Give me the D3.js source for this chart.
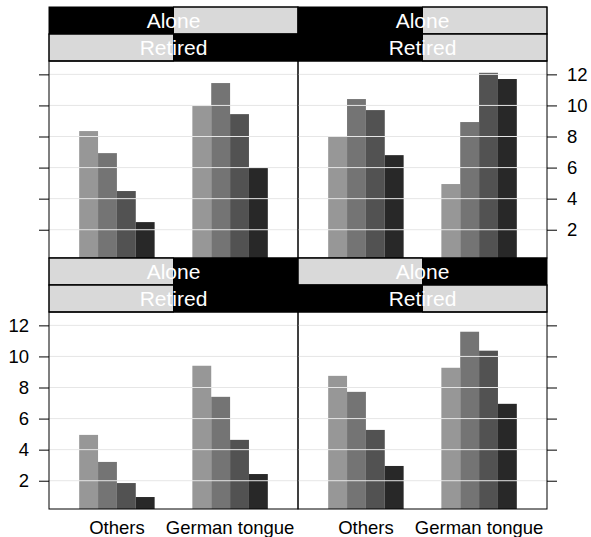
<!DOCTYPE html>
<html>
<head>
  <meta charset="UTF-8">
  <title>Barchart by Alone / Retired</title>
  <script src="https://d3js.org/d3.v7.min.js"></script>
  <style>
    body { margin: 0; padding: 0; background: #fff; }
    svg { display: block; font-family: "Liberation Sans", Arial, sans-serif; }
  </style>
</head>
<body>
  <svg id="chart" width="591" height="537"></svg>
  <script>
    // data
    const categories = ["Others", "German tongue"];
    const series = ["g1", "g2", "g3", "g4"];
    const yTicks = [2, 4, 6, 8, 10, 12];

    // Alone = level 1, Retired = level 1
    const othersA1R1 = [4.95, 3.21, 1.85, 0.95];
    const germanA1R1 = [9.4, 7.4, 4.63, 2.43];
    // Alone = 1, Retired = 2
    const othersA1R2 = [8.75, 7.72, 5.27, 2.95];
    const germanA1R2 = [9.27, 11.59, 10.37, 6.95];
    // Alone = 2, Retired = 1
    const othersA2R1 = [8.35, 6.93, 4.49, 2.49];
    const germanA2R1 = [9.96, 11.44, 9.44, 5.97];
    // Alone = 2, Retired = 2
    const othersA2R2 = [7.98, 10.41, 9.70, 6.80];
    const germanA2R2 = [4.94, 8.93, 12.10, 11.70];

    const panels = [
      {row: 0, col: 0, alone: 2, retired: 1, values: [othersA2R1, germanA2R1]},
      {row: 0, col: 1, alone: 2, retired: 2, values: [othersA2R2, germanA2R2]},
      {row: 1, col: 0, alone: 1, retired: 1, values: [othersA1R1, germanA1R1]},
      {row: 1, col: 1, alone: 1, retired: 2, values: [othersA1R2, germanA1R2]}
    ];

    const barColors = ["#979797", "#747474", "#525252", "#282828"];
    const stripGray = "#d9d9d9";

    const svg = d3.select("#chart");
    const left = 49, colW = 249;
    const top0 = 7, stripH = 27, panelH = 197;
    const rowH = 2 * stripH + panelH;

    const x = d3.scaleLinear().domain([0.4, 2.6]).range([0, colW]);
    const inner = d3.scaleBand().domain(series)
      .range([x(1 - 1/3) - x(1), x(1 + 1/3) - x(1)]);
    const y = d3.scaleLinear().domain([0.18, 12.86]).range([panelH, 0]);

    panels.forEach(p => {
      const px = left + p.col * colW;
      const py = top0 + p.row * rowH;
      const g = svg.append("g").attr("transform", `translate(${px},${py})`);

      // strips: Alone on top, Retired below
      [["Alone", p.alone], ["Retired", p.retired]].forEach(([name, lev], i) => {
        const s = g.append("g").attr("transform", `translate(0,${i * stripH})`);
        s.append("rect").attr("width", colW).attr("height", stripH).attr("fill", "#000");
        s.append("rect")
          .attr("x", lev === 1 ? 0 : colW / 2).attr("width", colW / 2)
          .attr("y", 0).attr("height", stripH)
          .attr("fill", stripGray).attr("stroke", "#000");
        s.append("rect").attr("width", colW).attr("height", stripH)
          .attr("fill", "none").attr("stroke", "#000");
        s.append("text")
          .attr("x", colW / 2).attr("y", stripH / 2 + 7)
          .attr("text-anchor", "middle")
          .attr("fill", "#fff")
          .style("font-size", "21px")
          .text(name);
      });

      const panel = g.append("g").attr("transform", `translate(0,${2 * stripH})`);

      categories.forEach((c, ci) => {
        panel.selectAll(null)
          .data(p.values[ci])
          .enter().append("rect")
          .attr("x", (d, i) => x(ci + 1) + inner(series[i]))
          .attr("width", inner.bandwidth())
          .attr("y", d => y(d))
          .attr("height", d => panelH - y(d))
          .attr("fill", (d, i) => barColors[i]);
      });

      // grid on top of the bars
      panel.selectAll(null)
        .data(yTicks)
        .enter().append("line")
        .attr("x1", 0).attr("x2", colW)
        .attr("y1", d => y(d)).attr("y2", d => y(d))
        .attr("stroke", "#e6e6e6").attr("stroke-width", 1);

      panel.append("rect").attr("width", colW).attr("height", panelH)
        .attr("fill", "none").attr("stroke", "#000");

      // y axes: left column on the left, right column on the right
      const showLabels = (p.col === 0 && p.row === 1) || (p.col === 1 && p.row === 0);
      const axis = (p.col === 0 ? d3.axisLeft(y) : d3.axisRight(y))
        .tickValues(yTicks).tickSize(10).tickPadding(10)
        .tickFormat(showLabels ? d3.format("d") : () => "");
      const ax = panel.append("g")
        .attr("transform", `translate(${p.col === 0 ? 0 : colW},0)`)
        .call(axis);
      ax.select(".domain").remove();
      ax.selectAll("line").attr("stroke", "#000");
      ax.selectAll("text").attr("fill", "#000").style("font-size", "18.5px")
        .attr("font-family", null);

      // category labels under the bottom row
      if (p.row === 1) {
        panel.selectAll(null)
          .data(categories)
          .enter().append("text")
          .attr("x", (d, i) => x(i + 1))
          .attr("y", panelH + 25)
          .attr("text-anchor", "middle")
          .style("font-size", "18.5px")
          .text(d => d);
      }
    });
  </script>
</body>
</html>
